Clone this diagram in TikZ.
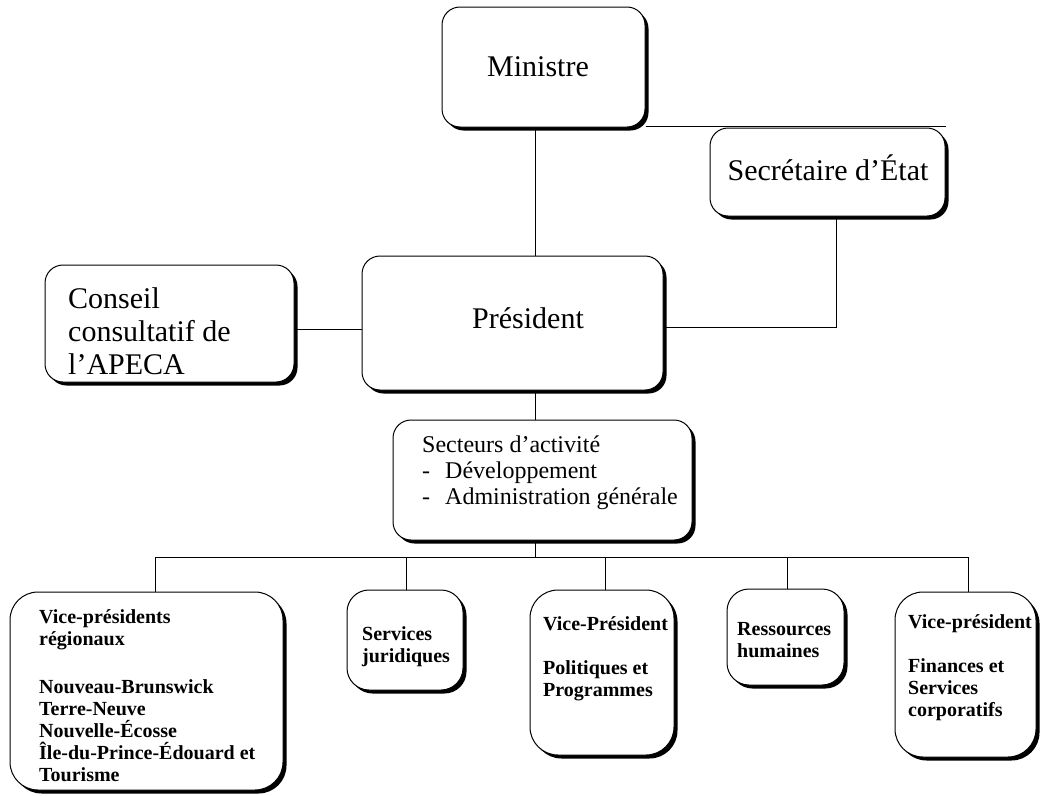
\documentclass[tikz,border=0pt]{standalone}
\usepackage{fontspec}
\setmainfont{Liberation Serif}
\usetikzlibrary{shadows,calc}
\begin{document}
\begin{tikzpicture}[x=1pt,y=-1pt,
  bx/.style={draw=black, line width=1pt, rounded corners=#1, fill=white, inner sep=0pt,
     drop shadow={shadow xshift=3.5pt, shadow yshift=-3.5pt, fill=black, opacity=1}},
  bx/.default=18pt,
  ln/.style={draw=black, line width=0.9pt},
  big/.style={font=\fontsize{30}{33}\selectfont, inner sep=0pt},
  mid/.style={font=\fontsize{24}{26}\selectfont, inner sep=0pt, anchor=base west},
  sm/.style={font=\bfseries\fontsize{20}{22}\selectfont, inner sep=0pt, anchor=base west}]
\fill[white] (0,0) rectangle (1041,795);
\useasboundingbox (0,0) rectangle (1041,795);

% trunk coordinates
\coordinate (trunk) at (535,0);
\coordinate (d1) at (155,557);
\coordinate (d2) at (406,557);
\coordinate (d3) at (605,557);
\coordinate (d4) at (787,557);
\coordinate (d5) at (968,557);

% boxes
\node[bx, minimum width=203pt, minimum height=120pt] (min) at (543.5,67) {};
\node[bx, minimum width=235pt, minimum height=88pt] (sec) at (827.5,172) {};
\node[bx, minimum width=301pt, minimum height=134pt] (pres) at (512.5,323) {};
\node[bx, minimum width=249pt, minimum height=117pt] (cons) at (169.5,323.5) {};
\node[bx, minimum width=299pt, minimum height=120pt] (sect) at (542.5,480) {};
\node[bx=28pt, minimum width=273pt, minimum height=198pt] (b1) at (146.5,691) {};
\node[bx=22pt, minimum width=116pt, minimum height=100pt] (b2) at (405,640) {};
\node[bx=28pt, minimum width=144pt, minimum height=165pt] (b3) at (602,672.5) {};
\node[bx=22pt, minimum width=117pt, minimum height=96pt] (b4) at (785.5,637) {};
\node[bx=28pt, minimum width=141pt, minimum height=165pt] (b5) at (965.5,674.5) {};

% connectors
\draw[ln] (min.south -| trunk) -- (pres.north -| trunk);
\draw[ln] ($(min.south east)+(0,-1)$) -- ($(min.south east -| sec.north east)+(0,-1)$);
\draw[ln] ($(sec.south)+(8.5,0)$) |- ($(pres.east)+(0,4)$);
\draw[ln] ($(cons.east)+(0,6)$) -- ($(cons.east -| pres.west)+(0,6)$);
\draw[ln] (pres.south -| trunk) -- (sect.north -| trunk);
\draw[ln] (sect.south -| trunk) -- (d1 -| trunk);
\draw[ln] (d1) -- (d5);
\draw[ln] (d1) -- (d1 |- b1.north);
\draw[ln] (d2) -- (d2 |- b2.north);
\draw[ln] (d3) -- (d3 |- b3.north);
\draw[ln] (d4) -- (d4 |- b4.north);
\draw[ln] (d5) -- (d5 |- b5.north);

% texts
\node[big] (tmin) at (538,67) {Ministre};
\node[big] (tsec) at (828,168) {Secrétaire d’État};
\node[big] (tpres) at (528,318) {Président};
\node[big, anchor=base west] (tcons) at (68,308) {\vtop{\hbox{Conseil}\hbox{consultatif de}\hbox{l’APECA}}};
\node[mid] (tsect) at (422,452) {\vtop{\hbox{Secteurs d’activité}\hbox{\makebox[23pt][l]{-}Développement}\hbox{\makebox[23pt][l]{-}Administration générale}}};
\node[sm] (tb1) at (39,623) {\vtop{\hbox{Vice-présidents}\hbox{régionaux}\hbox{}\vskip4pt\hbox{Nouveau-Brunswick}\hbox{Terre-Neuve}\hbox{Nouvelle-Écosse}\hbox{Île-du-Prince-Édouard et}\hbox{Tourisme}}};
\node[sm] (tb2) at (362,640) {\vtop{\hbox{Services}\hbox{juridiques}}};
\node[sm] (tb3) at (543,630) {\vtop{\hbox{Vice-Président}\hbox{}\hbox{Politiques et}\hbox{Programmes}}};
\node[sm] (tb4) at (737,635) {\vtop{\hbox{Ressources}\hbox{humaines}}};
\node[sm] (tb5) at (908,628) {\vtop{\hbox{Vice-président}\hbox{}\hbox{Finances et}\hbox{Services}\hbox{corporatifs}}};
\end{tikzpicture}
\end{document}
